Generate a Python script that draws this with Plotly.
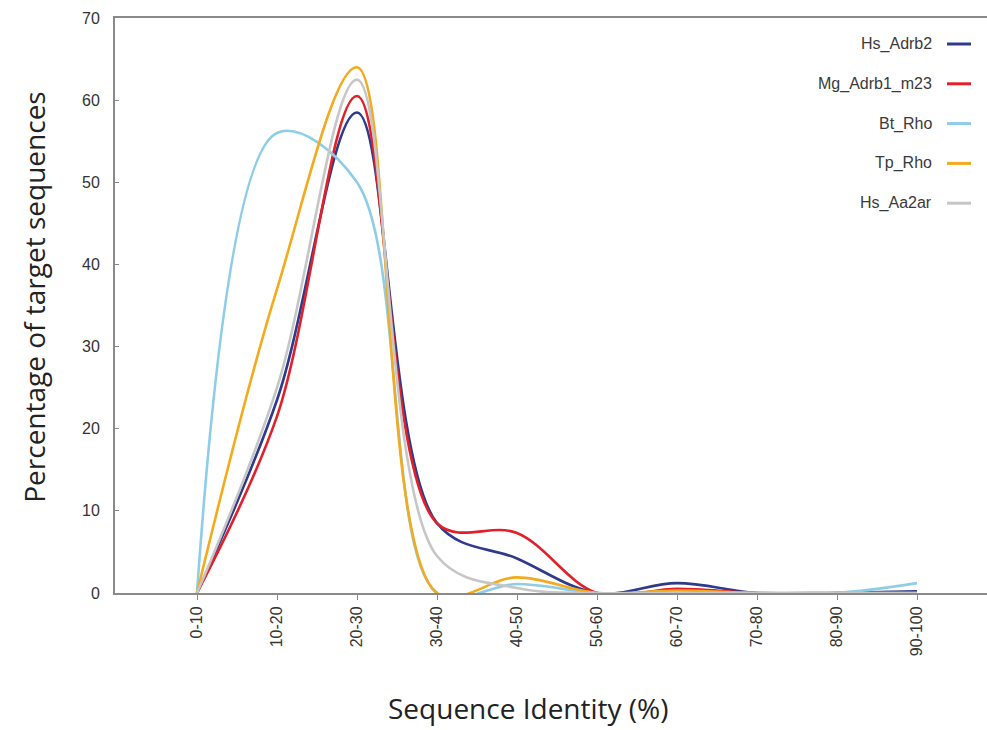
import plotly.graph_objects as go

categories = ["0-10", "10-20", "20-30", "30-40", "40-50", "50-60",
              "60-70", "70-80", "80-90", "90-100"]

hs_adrb2 = [0, 23.5, 58.5, 8.5, 4.2, 0, 1.2, 0, 0, 0.2]
mg_adrb1_m23 = [0, 21.5, 60.5, 8.5, 7.3, 0, 0.5, 0, 0, 0]
bt_rho = [0, 56.0, 50.0, 0, 1.1, 0, 0, 0, 0, 1.2]
tp_rho = [0, 37.0, 64.0, 0, 1.9, 0, 0.3, 0, 0, 0]
hs_aa2ar = [0, 25.0, 62.5, 4.5, 0.6, 0, 0, 0, 0, 0]

series_names = ["Hs_Adrb2", "Mg_Adrb1_m23", "Bt_Rho", "Tp_Rho", "Hs_Aa2ar"]
series_values = [hs_adrb2, mg_adrb1_m23, bt_rho, tp_rho, hs_aa2ar]
series_colors = ["#2E3A8C", "#E2202A", "#8DCDE8", "#F3AA1C", "#C6C6C6"]

y_ticks = [0, 10, 20, 30, 40, 50, 60, 70]

x_idx = list(range(len(categories)))

fig = go.Figure()
for name, vals, col in zip(series_names, series_values, series_colors):
    fig.add_trace(go.Scatter(
        x=x_idx, y=vals, name=name, mode="lines",
        line=dict(color=col, width=2.6, shape="spline", smoothing=1.0),
        showlegend=False, hoverinfo="skip"))

# legend drawn as right-aligned labels with line samples to the right
annotations = []
shapes = []
leg_top = (593 - 44) / 575
leg_step = 39.8 / 575
for i, (name, col) in enumerate(zip(series_names, series_colors)):
    yy = leg_top - i * leg_step
    annotations.append(dict(
        x=(934 - 115) / 872, y=yy, xref="paper", yref="paper", text=name,
        showarrow=False, xanchor="right", yanchor="middle",
        font=dict(family="Liberation Sans, Arial", size=16, color="#3a3a3a")))
    shapes.append(dict(
        type="line", xref="paper", yref="paper",
        x0=(947 - 115) / 872, x1=(971 - 115) / 872, y0=yy, y1=yy,
        line=dict(color=col, width=3)))

annotations.append(dict(
    x=-0.093, y=0.515, xref="paper", yref="paper",
    text="Percentage of target sequences", showarrow=False,
    textangle=-90, xanchor="center", yanchor="middle",
    font=dict(family="Open Sans", size=28, color="#222222")))
annotations.append(dict(
    x=(528 - 115) / 872, y=-0.2, xref="paper", yref="paper",
    text="Sequence Identity (%)", showarrow=False,
    xanchor="center", yanchor="middle",
    font=dict(family="Open Sans", size=28, color="#222222")))

fig.update_layout(
    width=987, height=730,
    margin=dict(l=115, r=0, t=18, b=137),
    paper_bgcolor="white", plot_bgcolor="white",
    annotations=annotations, shapes=shapes,
    showlegend=False,
)
fig.update_xaxes(
    range=[-1.025, 9.875],
    tickmode="array", tickvals=x_idx, ticktext=categories,
    tickangle=-90, ticks="outside", ticklen=5, tickcolor="#888888",
    showline=True, linecolor="#8a8a8a", linewidth=2, mirror=True,
    showgrid=False, zeroline=False,
    tickfont=dict(family="Liberation Sans, Arial", size=16, color="#333333"),
)
fig.update_yaxes(
    range=[0, 70],
    tickmode="array", tickvals=y_ticks, ticktext=[str(v) for v in y_ticks],
    ticks="inside", ticklen=4, tickcolor="#888888",
    showline=True, linecolor="#8a8a8a", linewidth=2, mirror=False,
    showgrid=False, zeroline=False, ticklabelstandoff=10,
    tickfont=dict(family="Liberation Sans, Arial", size=16, color="#333333"),
)

fig.write_html("out.html",
               config={"displayModeBar": False},
               post_script="document.body.style.margin='0';"
                           "document.body.style.overflow='hidden';")
